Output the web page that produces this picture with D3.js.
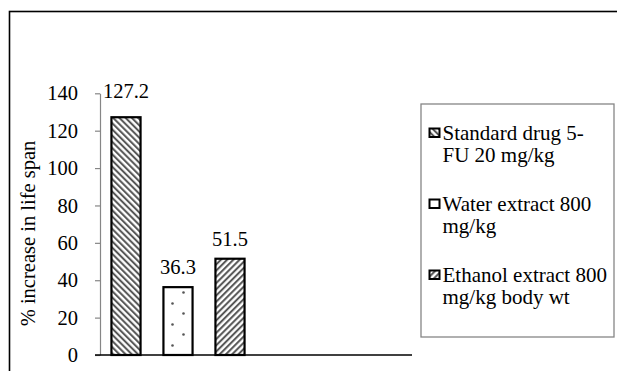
<!DOCTYPE html>
<html><head><meta charset="utf-8">
<script src="https://cdn.jsdelivr.net/npm/d3@7"></script>
</head>
<body style="margin:0;padding:0;background:#fff"><svg id="c" width="617" height="371" style="display:block"></svg>
<script>
const categories = ["Standard drug 5-FU 20 mg/kg", "Water extract 800 mg/kg", "Ethanol extract 800 mg/kg body wt"];
const values = [127.2, 36.3, 51.5];
const legendLines = [["Standard drug 5-", "FU 20 mg/kg"], ["Water extract 800", "mg/kg"], ["Ethanol extract 800", "mg/kg body wt"]];
const yTicks = [0, 20, 40, 60, 80, 100, 120, 140];
const slots = [0, 1, 2, 3, 4, 5];
const patternIds = ["pBack", "pDots", "pFwd"];

const svg = d3.select("#c");
const defs = svg.append("defs");

function hatch(id, angle) {
  const p = defs.append("pattern").attr("id", id).attr("patternUnits", "userSpaceOnUse")
    .attr("width", 4.4).attr("height", 4.4).attr("patternTransform", `rotate(${angle})`);
  p.append("rect").attr("width", 4.4).attr("height", 4.4).attr("fill", "#fff");
  p.append("line").attr("x1", 1.1).attr("y1", 0).attr("x2", 1.1).attr("y2", 4.4)
    .attr("stroke", "#4a4a4a").attr("stroke-width", 1.9);
}
hatch("pBack", -45);
hatch("pFwd", 45);
const pd = defs.append("pattern").attr("id", "pDots").attr("patternUnits", "userSpaceOnUse")
  .attr("width", 21).attr("height", 21);
pd.append("rect").attr("width", 21).attr("height", 21).attr("fill", "#fff");
pd.append("circle").attr("cx", 4.5).attr("cy", 9.5).attr("r", 1.3).attr("fill", "#555");
pd.append("circle").attr("cx", 15.5).attr("cy", 19.5).attr("r", 1.3).attr("fill", "#555");

svg.append("rect").attr("x", 9.5).attr("y", 11.5).attr("width", 700).attr("height", 500)
  .attr("fill", "none").attr("stroke", "#000").attr("stroke-width", 1.6);

const x = d3.scaleBand().domain(slots).range([100, 412]).paddingInner(0.44).paddingOuter(0.22);
const y = d3.scaleLinear().domain([0, 140]).range([355, 93.3]);

const ya = svg.append("g").attr("transform", "translate(100,0)")
  .call(d3.axisLeft(y).tickValues(yTicks).tickSize(5).tickPadding(17).tickSizeOuter(0));
ya.select(".domain").attr("stroke", "#868686").attr("stroke-width", 1.2);
ya.selectAll(".tick line").attr("stroke", "#868686").attr("stroke-width", 1.2);
ya.selectAll(".tick text").attr("fill", "#000");

svg.selectAll("rect.bar").data(values).join("rect").attr("class", "bar")
  .attr("x", (d, i) => x(i)).attr("width", x.bandwidth())
  .attr("y", d => y(d)).attr("height", d => y(0) - y(d))
  .attr("fill", (d, i) => `url(#${patternIds[i]})`)
  .attr("stroke", "#000").attr("stroke-width", 2.2);

svg.append("line").attr("x1", 95).attr("x2", 412).attr("y1", y(0)).attr("y2", y(0))
  .attr("stroke", "#000").attr("stroke-width", 1.6);

svg.selectAll("text.val").data(values).join("text").attr("class", "val")
  .attr("x", (d, i) => x(i) + x.bandwidth() / 2)
  .attr("y", d => y(d) - (d > 100 ? 19 : 13))
  .attr("text-anchor", "middle").text(d => d.toFixed(1));

svg.append("text").attr("transform", "translate(35,233.5) rotate(-90)")
  .attr("text-anchor", "middle").text("% increase in life span");

svg.append("rect").attr("x", 421).attr("y", 104).attr("width", 193).attr("height", 233)
  .attr("fill", "#fff").attr("stroke", "#868686").attr("stroke-width", 1.3);
const lg = svg.selectAll("g.leg").data(categories).join("g").attr("class", "leg")
  .attr("transform", (d, i) => `translate(0,${139.5 + i * 71})`);
lg.append("rect").attr("x", 429.5).attr("y", -11).attr("width", 10).attr("height", 8.5)
  .attr("fill", (d, i) => `url(#${patternIds[i]})`).attr("stroke", "#000").attr("stroke-width", 2);
lg.each(function (d, i) {
  const t = d3.select(this).append("text").attr("class", "legtxt");
  legendLines[i].forEach((ln, j) => t.append("tspan").attr("x", 442.5).attr("y", j * 22.5).text(ln));
});

svg.selectAll("text").style("font-family", "Liberation Serif").style("font-size", "20.5px").style("fill", "#000");
svg.selectAll("text.legtxt").style("font-size", "21px");
</script></body></html>
